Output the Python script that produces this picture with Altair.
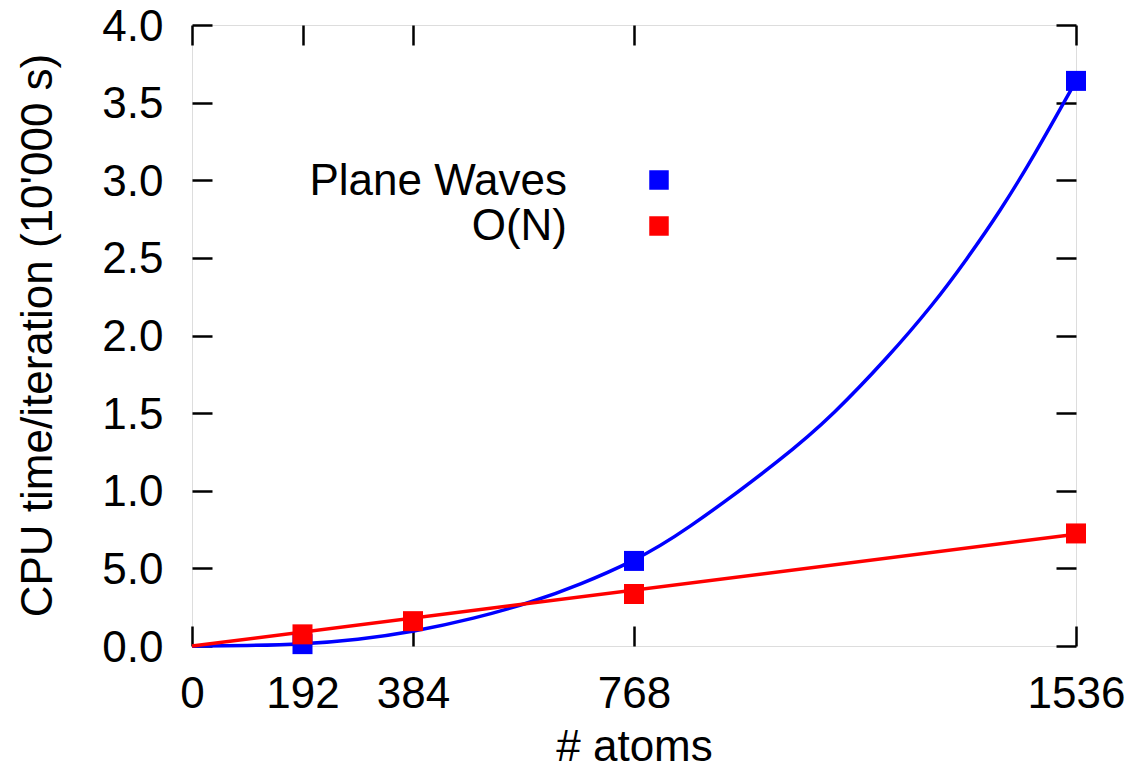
import altair as alt
import pandas as pd

# ---- data ----
x_ticks = [0, 192, 384, 768, 1536]
y_ticks = [0.0, 0.5, 1.0, 1.5, 2.0, 2.5, 3.0, 3.5, 4.0]
y_tick_labels = ["0.0", "5.0", "1.0", "1.5", "2.0", "2.5", "3.0", "3.5", "4.0"]

series_names = ["Plane Waves", "O(N)"]
series_colors = ["#0000ff", "#ff0000"]

pw_atoms = [192, 768, 1536]
pw_time = [0.012, 0.548, 3.64]

on_atoms = [192, 384, 768, 1536]
on_time = [0.075, 0.16, 0.335, 0.725]

# fitted curves
pw_fit_atoms = [0, 96, 192, 288, 384, 489, 593, 674, 768, 848, 1033, 1114, 1207, 1288, 1346, 1404, 1462, 1536]
pw_fit_time = [0.0, 0.002, 0.012, 0.040, 0.092, 0.175, 0.285, 0.395, 0.548, 0.715, 1.225, 1.49, 1.85, 2.20, 2.49, 2.80, 3.15, 3.64]

on_fit_atoms = [0, 1536]
on_fit_time = [0.0, 0.72]

x_title = "# atoms"
y_title = "CPU time/iteration (10'000 s)"

FONT = "Liberation Sans"
FS = 44

pw_fit = pd.DataFrame({"atoms": pw_fit_atoms, "time": pw_fit_time})
on_fit = pd.DataFrame({"atoms": on_fit_atoms, "time": on_fit_time})
pw_pts = pd.DataFrame({"atoms": pw_atoms, "time": pw_time})
on_pts = pd.DataFrame({"atoms": on_atoms, "time": on_time})

xs = alt.Scale(domain=[0, 1536], nice=False, zero=False)
ys = alt.Scale(domain=[0, 4], nice=False, zero=False)

label_expr = (
    "[" + ",".join("'" + l + "'" for l in y_tick_labels) + "]"
    + "[indexof([" + ",".join(str(v) for v in y_ticks) + "], datum.value)]"
)

tick_common = dict(tickSize=20, tickWidth=2.5, tickColor="black", domain=False, grid=False, offset=-20)

x_axis_bottom = alt.Axis(
    values=x_ticks, format="d", orient="bottom",
    labelFont=FONT, labelFontSize=FS, labelColor="black", labelPadding=26,
    title=x_title, titleFont=FONT, titleFontSize=FS, titleFontWeight="normal", titleColor="black",
    titleX=442, titleY=134, titleAlign="center", titleBaseline="alphabetic", titleAnchor="middle",
    labelFlush=False, labelOverlap=False,
    **tick_common,
)
y_axis_left = alt.Axis(
    values=y_ticks, orient="left", labelExpr=label_expr,
    labelFont=FONT, labelFontSize=FS, labelColor="black", labelPadding=29, labelOffset=2,
    title=y_title, titleFont=FONT, titleFontSize=FS, titleFontWeight="normal", titleColor="black",
    titleX=-174, titleY=310, titleAngle=270, titleAlign="center", titleBaseline="middle",
    labelFlush=False, labelOverlap=False,
    **tick_common,
)
x_axis_top = alt.Axis(values=x_ticks, orient="top", labels=False, title=None, **tick_common)
y_axis_right = alt.Axis(values=y_ticks, orient="right", labels=False, title=None, **tick_common)

pw_line = alt.Chart(pw_fit).mark_line(color=series_colors[0], strokeWidth=3.5, interpolate="basis").encode(
    x=alt.X("atoms:Q", scale=xs, axis=x_axis_bottom),
    y=alt.Y("time:Q", scale=ys, axis=y_axis_left),
)
on_line = alt.Chart(on_fit).mark_line(color=series_colors[1], strokeWidth=3.5).encode(
    x=alt.X("atoms:Q", scale=xs, axis=x_axis_top),
    y=alt.Y("time:Q", scale=ys, axis=y_axis_right),
)
pw_marks = alt.Chart(pw_pts).mark_point(shape="square", filled=True, size=400, opacity=1,
                                        color=series_colors[0]).encode(
    x=alt.X("atoms:Q", scale=xs, axis=None),
    y=alt.Y("time:Q", scale=ys, axis=None),
)
on_marks = alt.Chart(on_pts).mark_point(shape="square", filled=True, size=400, opacity=1,
                                        color=series_colors[1]).encode(
    x=alt.X("atoms:Q", scale=xs, axis=None),
    y=alt.Y("time:Q", scale=ys, axis=None),
)

legend_layers = []
for i, (name, col) in enumerate(zip(series_names, series_colors)):
    df = pd.DataFrame({"name": [name]})
    legend_layers.append(
        alt.Chart(df).mark_text(font=FONT, fontSize=FS, color="black", align="right",
                                baseline="alphabetic").encode(
            text="name:N", x=alt.value(375), y=alt.value(170 + 45 * i)
        )
    )
    legend_layers.append(
        alt.Chart(df).mark_point(shape="square", filled=True, size=380, opacity=1, color=col).encode(
            x=alt.value(467), y=alt.value(155 + 46 * i)
        )
    )

chart = alt.layer(pw_line, on_line, pw_marks, on_marks, *legend_layers).resolve_axis(
    x="independent", y="independent"
).properties(
    width=884, height=621,
    autosize=alt.AutoSizeParams(type="none"),
    padding={"left": 184, "top": 17, "right": 50, "bottom": 120},
).configure_view(stroke="black", strokeWidth=3).configure(background="white")

chart.save("out.html", embed_options={"renderer": "svg", "actions": False})
